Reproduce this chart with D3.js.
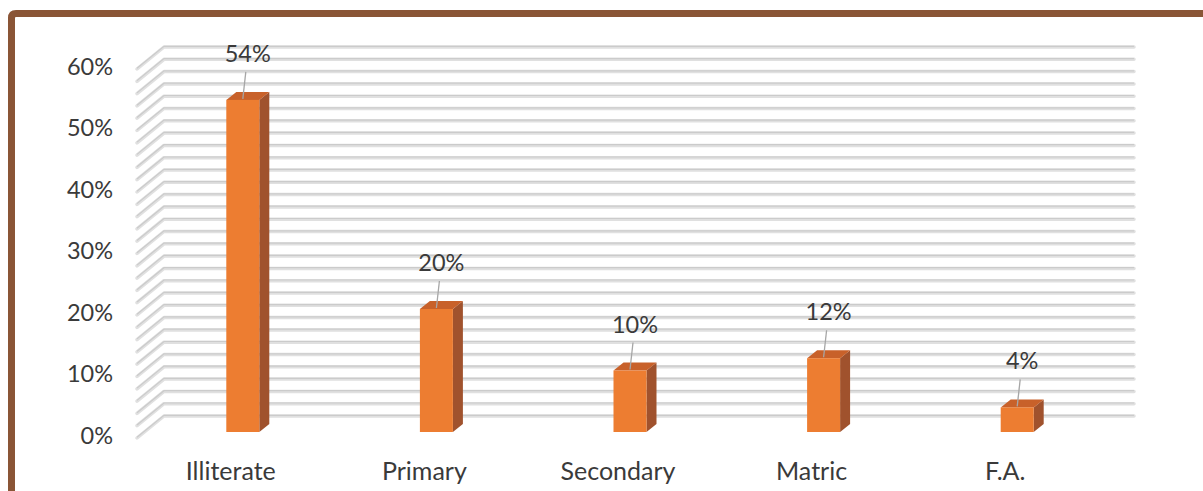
<!DOCTYPE html>
<html>
<head>
<meta charset="utf-8">
<script src="https://cdn.jsdelivr.net/npm/d3@7"></script>
<style>
  body { margin: 0; background: #fff; }
  text { font-family: Lato, "Open Sans", sans-serif; fill: #3a3a3a; }
</style>
</head>
<body>
<svg width="1203" height="491"></svg>
<script>
var categories = ["Illiterate", "Primary", "Secondary", "Matric", "F.A."];
var values = [54, 20, 10, 12, 4];
var tickLabels = ["0%", "10%", "20%", "30%", "40%", "50%", "60%"];

var svg = d3.select("svg");
var width = +svg.attr("width");
var height = +svg.attr("height");

// 3d offsets: back wall and bar depth
var wallDx = 27, wallDy = -22;
var barDx = 10, barDy = -8;
var barShiftX = 9, barShiftY = -6;

var x = d3.scaleBand()
    .domain(categories)
    .range([137, 1105]);

var y = d3.scaleLinear()
    .domain([0, 60])
    .range([438, 69]);

// brown frame
svg.append("path")
    .attr("d", "M11.5," + height + " L11.5,18 Q11.5,13.5 16,13.5 L" + width + ",13.5")
    .attr("fill", "none")
    .attr("stroke", "#8a5536")
    .attr("stroke-width", 7);

// gridlines, every 2%
var grid = svg.append("g").attr("class", "grid");
var gridTicks = y.ticks(30);

function gridPath(d) {
    var yf = y(d);
    return "M" + x.range()[0] + "," + yf +
        " L" + (x.range()[0] + wallDx) + "," + (yf + wallDy) +
        " L1134," + (yf + wallDy);
}

grid.selectAll("path.shade")
    .data(gridTicks)
    .enter().append("path")
    .attr("class", "shade")
    .attr("d", gridPath)
    .attr("fill", "none")
    .attr("stroke", "#e0e0e0")
    .attr("stroke-width", 3.5)
    .attr("stroke-linecap", "round")
    .attr("stroke-linejoin", "round");

grid.selectAll("path.line")
    .data(gridTicks)
    .enter().append("path")
    .attr("class", "line")
    .attr("d", gridPath)
    .attr("transform", "translate(0,-0.7)")
    .attr("fill", "none")
    .attr("stroke", "#cbcbcb")
    .attr("stroke-width", 1.2);

// y axis labels
svg.append("g")
    .selectAll("text")
    .data(tickLabels)
    .enter().append("text")
    .attr("x", 113)
    .attr("y", function (d, i) { return y(i * 10); })
    .attr("text-anchor", "end")
    .attr("dominant-baseline", "middle")
    .attr("font-size", 23.5)
    .text(function (d) { return d; });

// x axis labels
svg.append("g")
    .selectAll("text")
    .data(categories)
    .enter().append("text")
    .attr("x", function (d) { return x(d) + x.bandwidth() / 2 - 3; })
    .attr("y", 474)
    .attr("text-anchor", "middle")
    .attr("dominant-baseline", "middle")
    .attr("font-size", 25)
    .text(function (d) { return d; });

// bars
var barW = 33;
var bars = svg.append("g").selectAll("g")
    .data(categories.map(function (c, i) { return { cat: c, value: values[i] }; }))
    .enter().append("g");

function bx(d) { return x(d.cat) + x.bandwidth() / 2 + barShiftX - barW / 2; }
function byTop(d) { return y(d.value) + barShiftY; }
var byBottom = y(0) + barShiftY;

// side face
bars.append("path")
    .attr("d", function (d) {
        var x1 = bx(d) + barW, t = byTop(d);
        return "M" + x1 + "," + t + " L" + (x1 + barDx) + "," + (t + barDy) +
            " L" + (x1 + barDx) + "," + (byBottom + barDy) + " L" + x1 + "," + byBottom + "Z";
    })
    .attr("fill", "#a0522d");

// top face
bars.append("path")
    .attr("d", function (d) {
        var x0 = bx(d), t = byTop(d);
        return "M" + x0 + "," + t + " L" + (x0 + barDx) + "," + (t + barDy) +
            " L" + (x0 + barW + barDx) + "," + (t + barDy) + " L" + (x0 + barW) + "," + t + "Z";
    })
    .attr("fill", "#c8612a");

// front face
bars.append("rect")
    .attr("x", bx)
    .attr("y", byTop)
    .attr("width", barW)
    .attr("height", function (d) { return byBottom - byTop(d); })
    .attr("fill", "#ed7d31");

// data labels with leader lines
bars.append("line")
    .attr("x1", function (d) { return bx(d) + barW / 2 + 3; })
    .attr("y1", function (d) { return byTop(d) - 28; })
    .attr("x2", function (d) { return bx(d) + barW / 2; })
    .attr("y2", function (d) { return byTop(d) - 1; })
    .attr("stroke", "#a6a6a6")
    .attr("stroke-width", 1.3);

bars.append("text")
    .attr("x", function (d) { return bx(d) + barW / 2 + 5; })
    .attr("y", function (d) { return byTop(d) - 38; })
    .attr("text-anchor", "middle")
    .attr("font-size", 23.5)
    .text(function (d) { return d.value + "%"; });
</script>
</body>
</html>
